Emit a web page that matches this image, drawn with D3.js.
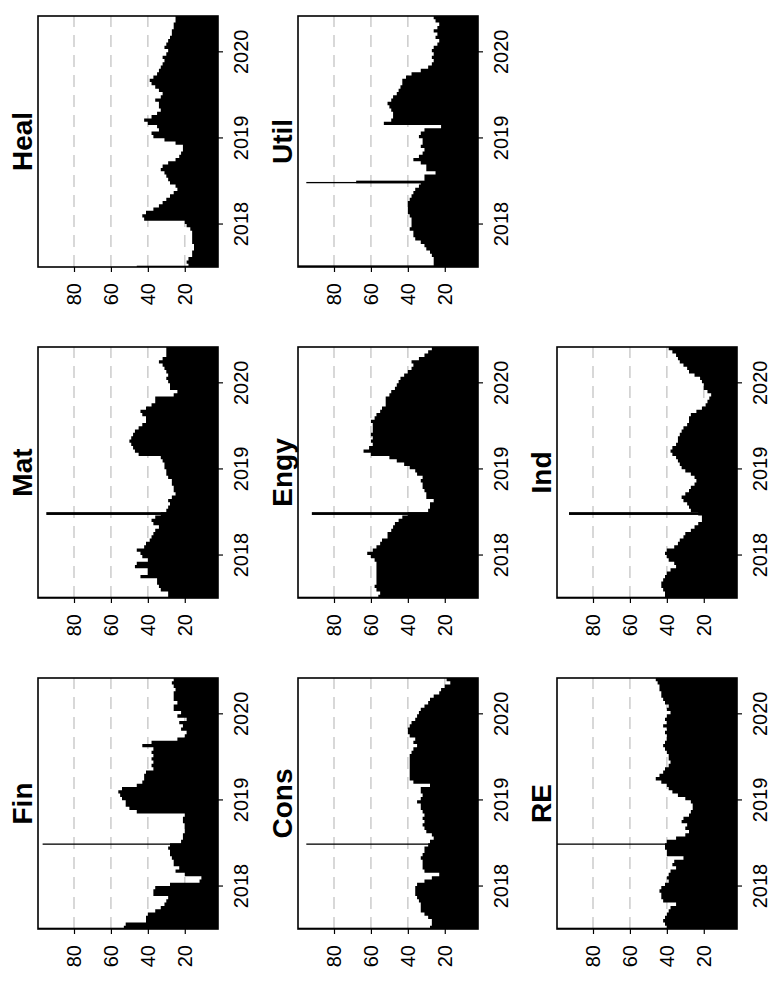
<!DOCTYPE html>
<html>
<head>
<meta charset="utf-8">
<script src="https://cdn.jsdelivr.net/npm/d3@7"></script>
<style>
  body { margin: 0; background: #fff; }
  svg { display: block; }
  .tick text { font-family: "Liberation Sans", Arial, sans-serif; font-size: 20px; fill: #000; }
  .tick line { stroke: #000; stroke-width: 1.2; }
  .title { font-family: "Liberation Sans", Arial, sans-serif; font-size: 28px; font-weight: bold; }
</style>
</head>
<body>
<svg id="chart" width="783" height="983"></svg>
<script>
// biweekly sampling grid, early July 2017 to early June 2020
var dates = d3.timeDay.range(new Date(2017, 6, 5), new Date(2020, 5, 4), 14);

var panelNames = ["Fin", "Mat", "Heal", "Cons", "Engy", "Util", "RE", "Ind"];

var fin  = [53,52,41,41,40,36,33,31,30,29,37,37,36,28,12,11,20,25,23,26,26,27,28,28,29,28,22,21,21,20,20,20,21,21,20,46,50,52,52,54,55,56,54,46,43,42,42,41,37,38,37,38,37,38,37,43,38,24,20,19,22,21,23,19,24,22,26,26,24,26,26,26,25,26,27,26,25];
var mat  = [29,29,33,34,35,35,44,40,40,47,46,40,43,44,46,42,41,39,38,37,36,34,37,38,36,33,30,29,28,29,27,25,26,26,27,27,29,30,30,31,31,32,33,45,47,48,49,50,49,48,47,45,43,41,41,43,44,41,38,36,36,26,24,28,28,29,30,29,30,31,32,34,32,30,30,30,30];
var heal = [18,19,18,16,16,15,15,16,16,16,16,17,19,20,42,43,41,37,34,32,30,28,26,24,25,28,29,30,31,33,32,29,25,23,22,21,21,25,31,37,38,34,35,40,42,38,35,33,34,34,36,33,32,34,36,38,39,37,35,34,33,32,31,32,30,29,31,30,29,28,27,27,26,26,25,25,26];
var cons = [28,27,27,29,31,33,33,33,34,35,36,36,36,35,31,27,23,31,32,32,32,33,32,31,31,29,28,26,27,30,31,32,31,32,31,32,33,33,35,33,32,33,33,28,37,39,39,39,39,39,39,39,39,38,37,35,37,36,39,40,40,39,38,36,35,34,33,31,29,28,26,23,22,20,17,19,22];
var engy = [56,55,57,58,57,57,57,57,57,57,57,58,60,62,59,57,55,54,51,51,49,48,47,45,43,40,29,28,28,26,30,30,31,32,32,33,32,35,36,39,42,46,50,60,64,61,59,60,59,60,59,59,59,60,58,57,55,54,52,52,52,50,49,47,46,45,44,42,40,38,37,38,34,31,29,27,26];
var util = [26,26,26,27,28,30,31,33,36,37,37,39,38,38,38,39,40,40,40,40,39,38,37,36,34,33,31,31,25,30,30,33,37,34,32,31,33,32,32,34,33,31,22,53,49,48,48,49,50,51,49,48,46,45,44,43,43,41,38,33,29,27,26,27,26,27,26,24,23,25,24,26,24,23,25,26,26];
var re   = [40,41,42,41,40,39,38,35,42,43,43,44,43,41,39,40,39,38,35,37,36,31,40,40,41,41,40,35,30,28,30,29,32,31,28,27,26,26,27,30,34,37,39,40,43,46,44,42,41,39,38,39,39,40,41,42,41,40,40,41,40,42,40,41,40,38,40,39,41,42,43,43,44,44,45,46,47];
var ind  = [41,41,42,43,43,42,41,40,38,35,36,39,40,41,40,36,34,33,31,30,27,25,23,21,21,23,27,28,29,31,32,30,28,27,25,24,25,27,30,32,33,34,35,37,38,37,35,34,34,33,32,31,29,28,28,27,24,21,19,18,17,16,18,20,20,21,22,25,28,29,31,33,34,35,37,39,40];

// short-lived readings: [from, to, value]
var finSpikes  = [["2017-07-05", "2017-07-08", 100], ["2018-06-27", "2018-06-27", 97]];
var matSpikes  = [["2017-07-05", "2017-07-10", 100], ["2018-06-22", "2018-07-04", 95]];
var healSpikes = [["2017-07-05", "2017-07-08", 46]];
var consSpikes = [["2017-07-05", "2017-07-08", 100], ["2018-06-27", "2018-06-27", 95]];
var engySpikes = [["2017-07-05", "2017-07-10", 100], ["2018-06-22", "2018-07-04", 92]];
var utilSpikes = [["2017-07-05", "2017-07-12", 100], ["2018-06-25", "2018-06-25", 95], ["2018-06-25", "2018-07-06", 68]];
var reSpikes   = [["2017-07-05", "2017-07-08", 100], ["2018-06-27", "2018-06-27", 100]];
var indSpikes  = [["2017-07-05", "2017-07-10", 100], ["2018-06-22", "2018-07-04", 93]];

var seriesValues = [fin, mat, heal, cons, engy, util, re, ind];
var seriesSpikes = [finSpikes, matSpikes, healSpikes, consSpikes, engySpikes, utilSpikes, reSpikes, indSpikes];

var gridValues = [20, 40, 60, 80];
var yearTicks = [new Date(2018, 0, 1), new Date(2019, 0, 1), new Date(2020, 0, 1)];

// the whole figure is drawn upright (983 x 783) and turned a quarter anticlockwise
var fullW = 983, fullH = 783;
var colX = [54, 385, 716], rowY = [38, 298, 557];
var pw = 251, ph = 180;

var parseDay = d3.timeParse("%Y-%m-%d");

var svg = d3.select("#chart");
var fig = svg.append("g")
    .attr("transform", "translate(0," + fullW + ") rotate(-90)");

var x = d3.scaleTime()
    .domain([dates[0], dates[dates.length - 1]])
    .range([0, pw]);

var y = d3.scaleLinear()
    .domain([2, 99.5])
    .range([ph, 0])
    .clamp(true);

var area = d3.area()
    .curve(d3.curveStepAfter)
    .x(function(d) { return x(d.date); })
    .y0(ph)
    .y1(function(d) { return y(d.value); });

panelNames.forEach(function(name, k) {
  var col = k % 3, row = Math.floor(k / 3);
  var g = fig.append("g")
      .attr("transform", "translate(" + colX[col] + "," + rowY[row] + ")");

  g.selectAll("line.grid")
    .data(gridValues)
    .enter().append("line")
      .attr("class", "grid")
      .attr("x1", 0).attr("x2", pw)
      .attr("y1", function(d) { return y(d); })
      .attr("y2", function(d) { return y(d); })
      .attr("stroke", "#cfcfcf")
      .attr("stroke-width", 1.6)
      .attr("stroke-dasharray", "12,8");

  var pts = seriesValues[k].map(function(v, i) { return {date: dates[i], value: v}; });

  g.append("path")
    .datum(pts)
    .attr("d", area)
    .attr("fill", "#000");

  g.selectAll("rect.spike")
    .data(seriesSpikes[k])
    .enter().append("rect")
      .attr("class", "spike")
      .attr("x", function(d) { return x(parseDay(d[0])); })
      .attr("width", function(d) { return Math.max(x(parseDay(d[1])) - x(parseDay(d[0])), 1.3); })
      .attr("y", function(d) { return y(d[2]); })
      .attr("height", function(d) { return ph - y(d[2]); })
      .attr("fill", "#000");

  g.append("g")
    .call(d3.axisLeft(y).tickValues(gridValues).tickSize(5).tickPadding(11))
    .call(function(a) { a.select(".domain").remove(); });

  g.append("g")
    .attr("transform", "translate(0," + ph + ")")
    .call(d3.axisBottom(x).tickValues(yearTicks).tickFormat(d3.timeFormat("%Y")).tickSize(5).tickPadding(11))
    .call(function(a) { a.select(".domain").remove(); });

  g.append("rect")
    .attr("width", pw).attr("height", ph)
    .attr("fill", "none")
    .attr("stroke", "#000")
    .attr("stroke-width", 1.6);

  g.append("text")
    .attr("class", "title")
    .attr("x", pw / 2)
    .attr("y", -6)
    .attr("text-anchor", "middle")
    .text(name);
});
</script>
</body>
</html>
